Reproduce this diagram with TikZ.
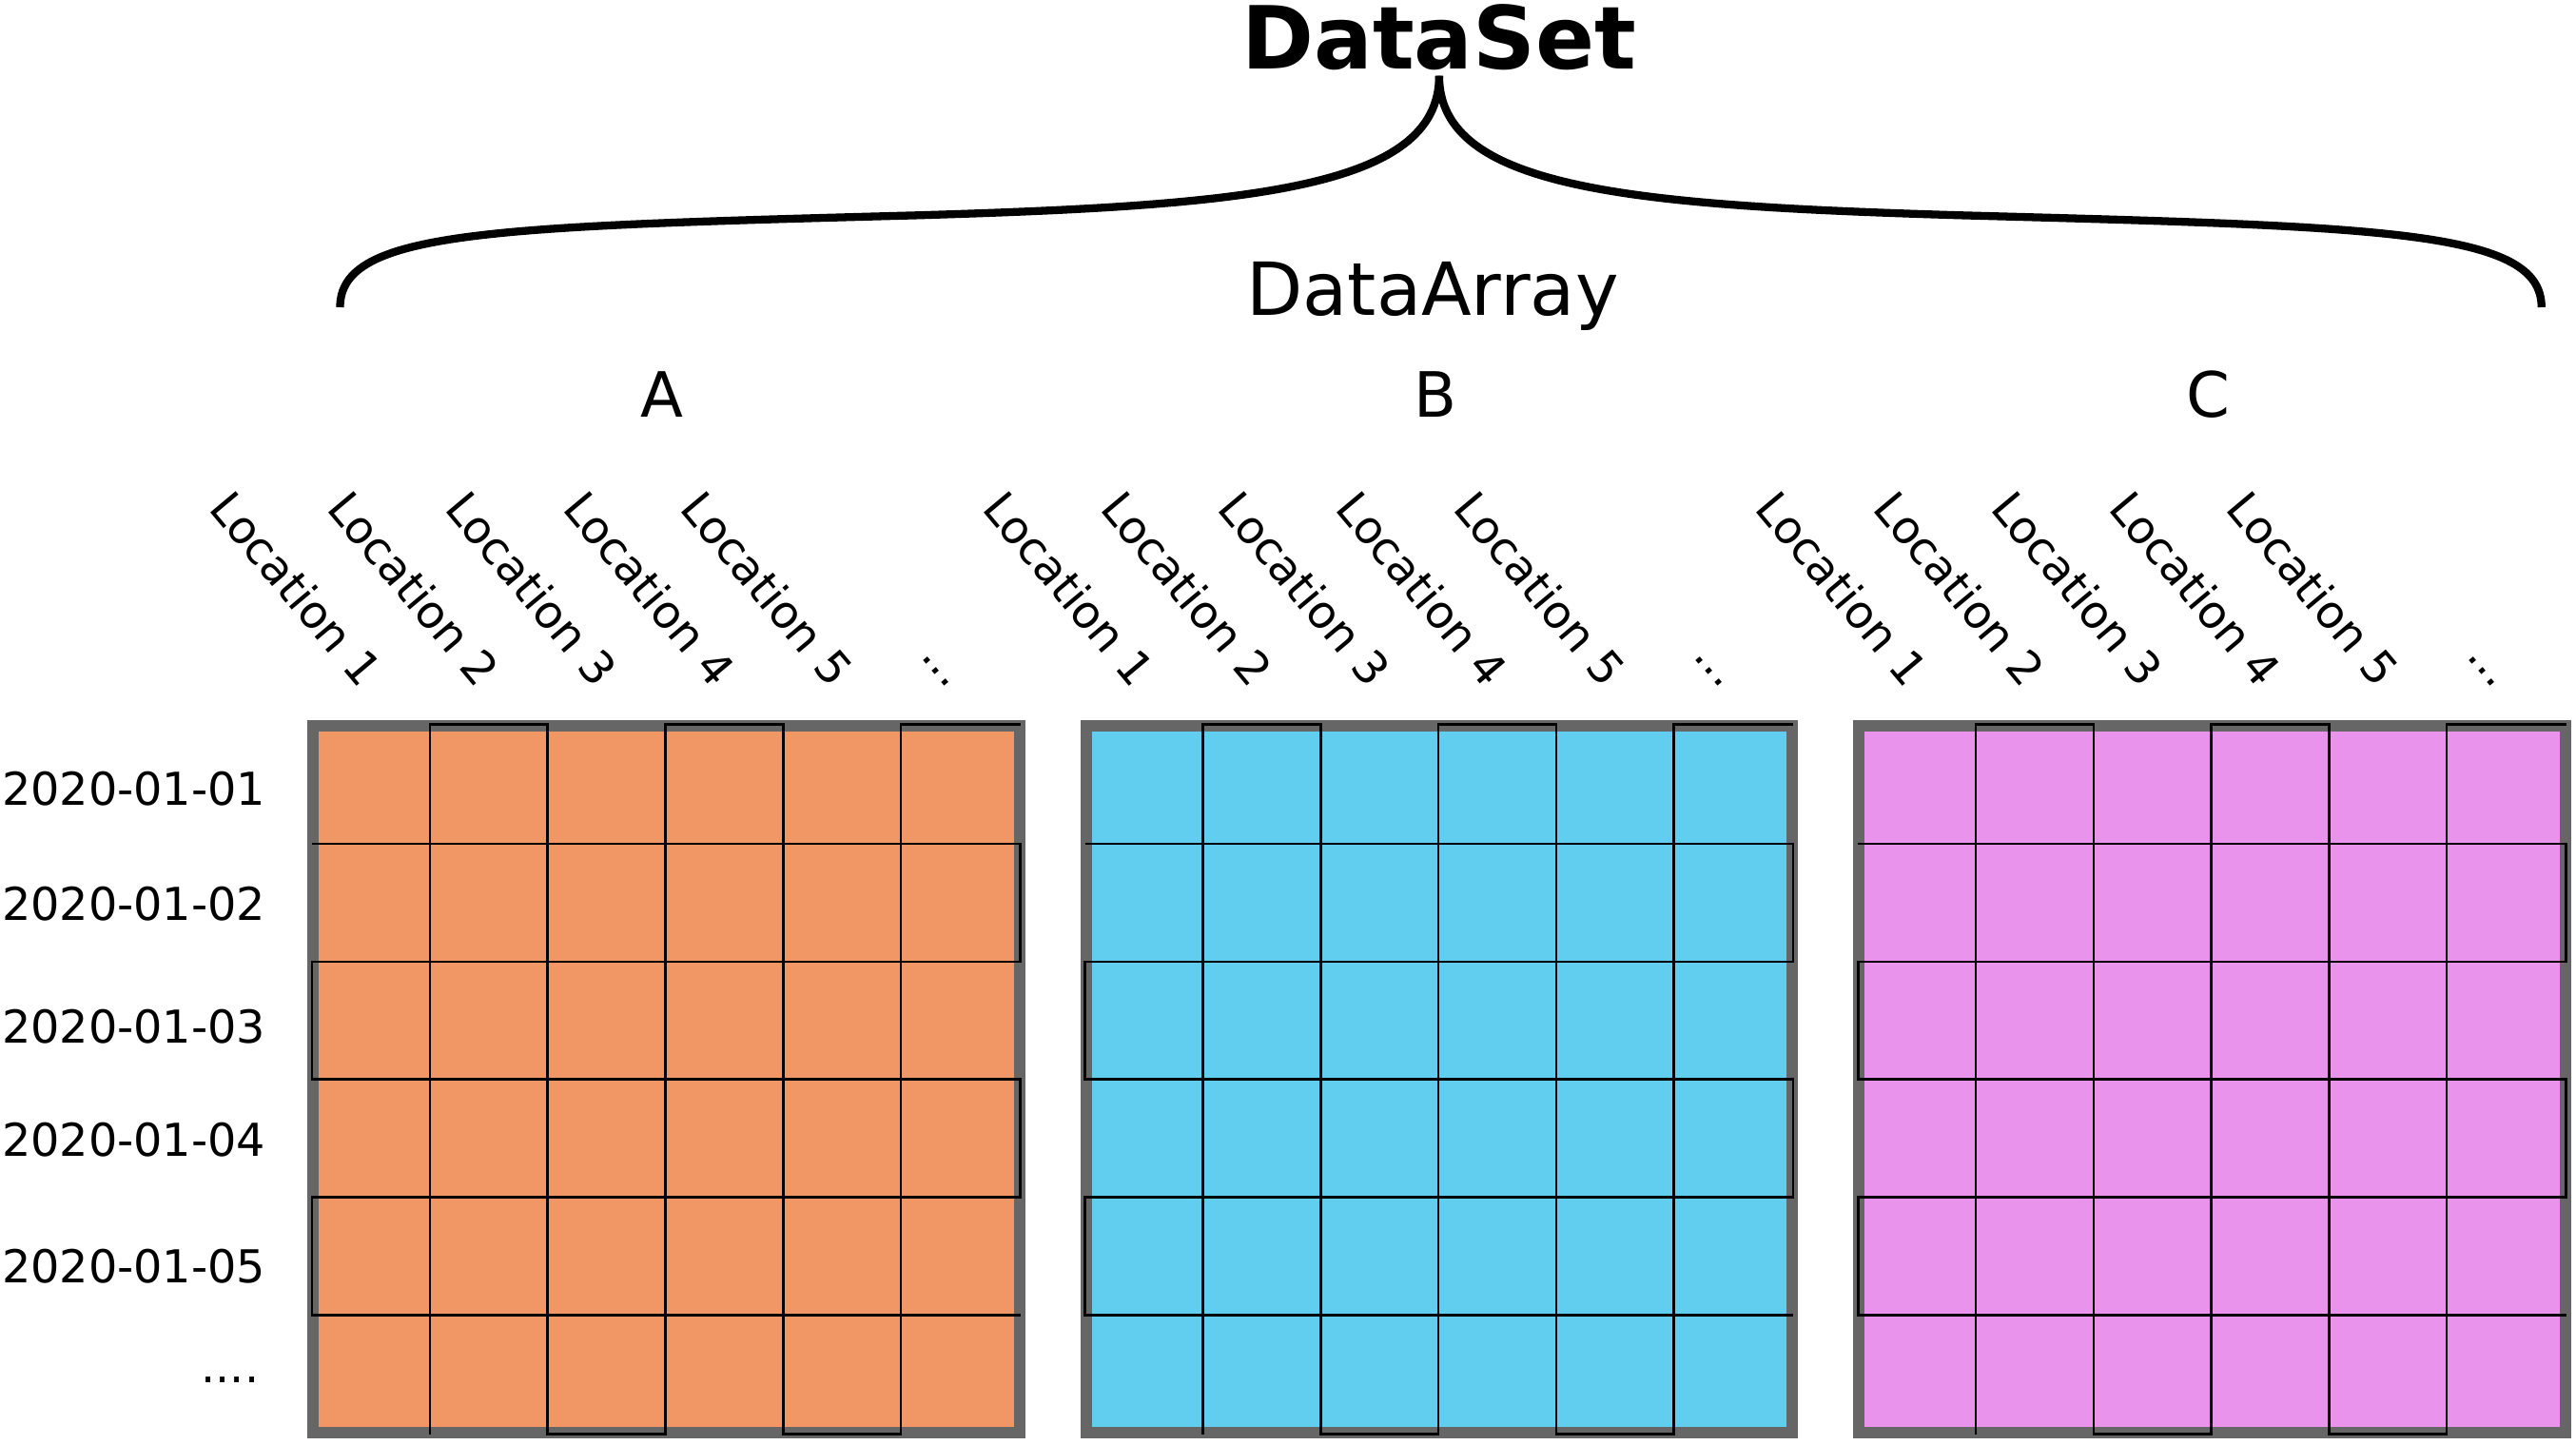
\documentclass[tikz,border=0pt]{standalone}
\usepackage{fontspec}
\setmainfont{DejaVu Sans}
\usepackage{tikz}
\usetikzlibrary{positioning}
\definecolor{framegray}{HTML}{666666}
\definecolor{orangecell}{HTML}{F19766}
\definecolor{bluecell}{HTML}{61CEF0}
\definecolor{pinkcell}{HTML}{EA93EC}

\begin{document}
\begin{tikzpicture}[x=0.5pt,y=-0.5pt,
    every node/.style={inner sep=0pt},
    frame/.style={draw=framegray, line width=3.5pt, minimum width=215pt, minimum height=215pt},
    cellline/.style={draw=black, line width=0.75pt},
    brace/.style={draw=black, line width=2.4pt},
    loc/.style={font=\fontsize{13.8}{16}\selectfont, rotate=-50, anchor=base east},
    datelbl/.style={font=\fontsize{13.8}{16}\selectfont, anchor=east},
    arrname/.style={font=\fontsize{19}{22}\selectfont, anchor=base}]

    \useasboundingbox (0,0) rectangle (1568,879);

    \node[font=\bfseries\fontsize{26.5}{30}\selectfont, anchor=base] (ds) at (876,42) {DataSet};
    \node[font=\fontsize{22.3}{26}\selectfont, anchor=base] (da) at (872,192) {DataArray};

    % the brace
    \coordinate (bl) at (207,187);
    \coordinate (br) at (1547,187);
    \draw[brace] ([yshift=-1.5pt]ds.south) .. controls (876,115) and (760,125) .. (560,131)
        .. controls (300,138) and (207,140) .. (bl);
    \draw[brace] ([yshift=-1.5pt]ds.south) .. controls (876,115) and (992,125) .. (1192,131)
        .. controls (1452,138) and (1547,140) .. (br);

    % one array per variable
    \foreach \g/\ox/\col in {A/0/orangecell, B/470.5/bluecell, C/941/pinkcell} {
      \begin{scope}[shift={(\ox,0)}]
        \node[frame, fill=\col] (g\g) at (405.5,657) {};
        \draw[cellline] (261.67,873) -- (261.67,441) -- (333.33,441) -- (333.33,873) -- (405,873)
            -- (405,441) -- (476.67,441) -- (476.67,873) -- (548.33,873) -- (548.33,441) -- (621,441);
        \draw[cellline] (190,513.67) -- (621,513.67) -- (621,585.33) -- (190,585.33) -- (190,657)
            -- (621,657) -- (621,728.67) -- (190,728.67) -- (190,800.33) -- (621,800.33);
        \node[arrname] (\g) at (403,254) {\g};
        \foreach \i in {1,...,5}
          \node[loc] (loc\g\i) at ({190+71.67*(\i-0.5)-7},420) {Location \i};
        \node[loc] (loc\g6) at ({190+71.67*5.5-7},420) {...};
      \end{scope}
    }

    % time axis
    \node[datelbl] (d1) at (162,480) {2020-01-01};
    \node[datelbl] (d2) at (162,550) {2020-01-02};
    \node[datelbl] (d3) at (162,625) {2020-01-03};
    \node[datelbl] (d4) at (162,694) {2020-01-04};
    \node[datelbl] (d5) at (162,771) {2020-01-05};
    \node[datelbl] (d6) at (158,840) {....};

\end{tikzpicture}
\end{document}
